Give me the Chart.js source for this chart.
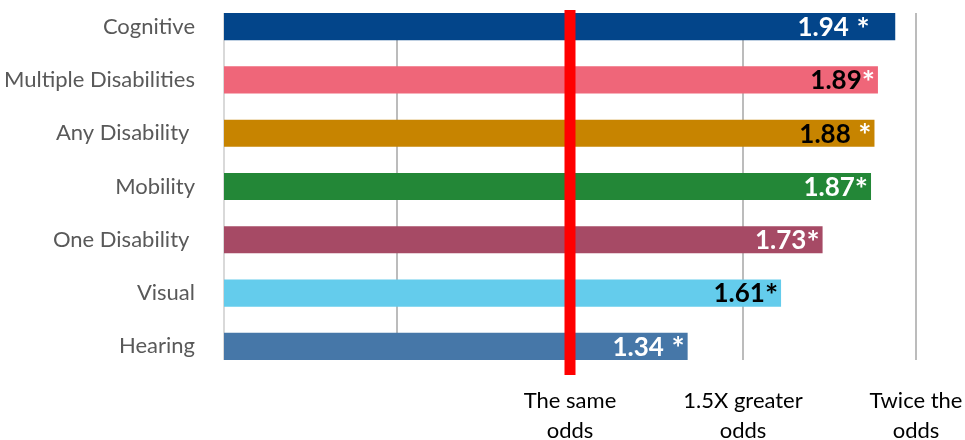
<!DOCTYPE html>
<html>
<head>
<meta charset="utf-8">
<script src="https://cdn.jsdelivr.net/npm/chart.js@4/dist/chart.umd.min.js"></script>
<style>
  html, body { margin: 0; padding: 0; background: #fff; }
  #wrap { width: 965px; height: 440px; }
</style>
</head>
<body>
<div id="wrap"><canvas id="oddschart"></canvas></div>
<script>
var categories = ['Cognitive', 'Multiple Disabilities', 'Any Disability ', 'Mobility', 'One Disability ', 'Visual', 'Hearing'];
var oddsRatios = [1.94, 1.89, 1.88, 1.87, 1.73, 1.61, 1.34];
var starText = [' *   ', '*', ' *', '*', '*', '*', ' *'];
var barColors = ['#03458a', '#ef6679', '#c78400', '#238737', '#a64a65', '#64ccec', '#4677a8'];
var numberColors = ['#fff', '#000', '#000', '#fff', '#fff', '#000', '#fff'];
var starColors = ['#fff', '#fff', '#fff', '#fff', '#fff', '#000', '#fff'];
var tickValues = [1, 1.5, 2];
var tickText = [['The same', 'odds'], ['1.5X greater', 'odds'], ['Twice the', 'odds']];
var sameOdds = 1;

var fontFamily = 'Lato, "Open Sans", sans-serif';

// light grid + axis line, only as tall as the bars
var gridLines = {
  id: 'gridLines',
  beforeDatasetsDraw: function(chart) {
    var c = chart.ctx, x = chart.scales.x;
    var bars = chart.getDatasetMeta(0).data;
    var top = bars[0].y - bars[0].height / 2;
    var bottom = bars[bars.length - 1].y + bars[bars.length - 1].height / 2;
    c.save();
    x.ticks.forEach(function(t) {
      if (t.value === sameOdds) return;
      var px = Math.round(x.getPixelForValue(t.value));
      c.strokeStyle = t.value === 0 ? '#d9d9d9' : '#bcbcbc';
      c.lineWidth = 2;
      c.beginPath();
      c.moveTo(px, top);
      c.lineTo(px, bottom);
      c.stroke();
    });
    c.restore();
  },
  afterDatasetsDraw: function(chart) {
    var c = chart.ctx, x = chart.scales.x;
    var bars = chart.getDatasetMeta(0).data;
    // thick red marker at odds ratio 1
    var px = x.getPixelForValue(sameOdds);
    c.save();
    c.fillStyle = '#ff0000';
    c.fillRect(px - 5.5, 10, 11, 365);

    // value labels at the end of each bar, with a larger asterisk
    c.textAlign = 'right';
    c.textBaseline = 'middle';
    bars.forEach(function(bar, i) {
      var right = bar.x - 3;
      c.font = 'bold 31px ' + fontFamily;
      c.fillStyle = starColors[i];
      c.fillText(starText[i], right, bar.y + 3);
      var w = c.measureText(starText[i]).width;
      c.font = 'bold 26px ' + fontFamily;
      c.fillStyle = numberColors[i];
      c.fillText(oddsRatios[i].toFixed(2), right - w, bar.y + 1);
    });
    c.restore();
  }
};

new Chart(document.getElementById('oddschart'), {
  type: 'bar',
  data: {
    labels: categories,
    datasets: [{
      data: oddsRatios,
      backgroundColor: barColors,
      borderWidth: 0,
      categoryPercentage: 1,
      barPercentage: 0.51
    }]
  },
  options: {
    indexAxis: 'y',
    responsive: true,
    maintainAspectRatio: false,
    animation: false,
    layout: { padding: { left: 0, right: 49, top: 0, bottom: 0 } },
    plugins: {
      legend: { display: false },
      tooltip: { enabled: false }
    },
    scales: {
      x: {
        min: 0,
        max: 2,
        grid: { display: false, drawTicks: false },
        border: { display: false },
        afterFit: function(scale) {
          scale.height = 67;
          scale.paddingLeft = 0;
          scale.paddingRight = 0;
        },
        ticks: {
          stepSize: 0.5,
          autoSkip: false,
          maxRotation: 0,
          padding: 13,
          color: '#000',
          font: { family: fontFamily, size: 22, lineHeight: 1.36 },
          callback: function(v) {
            var i = tickValues.indexOf(v);
            return i < 0 ? '' : tickText[i];
          }
        }
      },
      y: {
        grid: { display: false, drawTicks: false },
        border: { display: false },
        afterFit: function(scale) {
          scale.width = 224;
          scale.paddingTop = 0;
          scale.paddingBottom = 0;
        },
        ticks: {
          padding: 29,
          color: '#595959',
          font: { family: fontFamily, size: 22 }
        }
      }
    }
  },
  plugins: [gridLines]
});
</script>
</body>
</html>
